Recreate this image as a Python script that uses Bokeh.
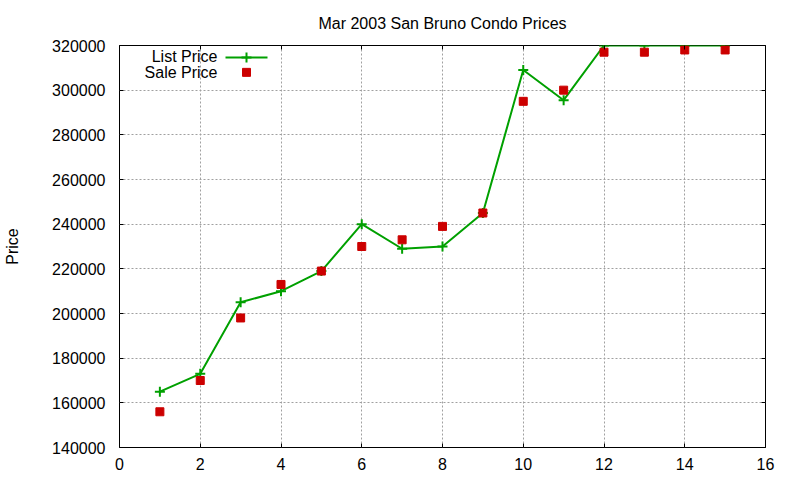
from bokeh.models import (ColumnDataSource, Label, LinearAxis,
                          SingleIntervalTicker, BasicTickFormatter, Range1d)
from bokeh.plotting import figure
from bokeh.embed import file_html
from bokeh.resources import INLINE

# data
month = [1, 2, 3, 4, 5, 6, 7, 8, 9, 10, 11, 12, 13, 14, 15]
list_price = [165000, 173000, 205000, 210000, 219000, 240000, 229000, 230000,
              245000, 309000, 295500, 320000, 320000, 320000, 320000]
sale_price = [156000, 170000, 198000, 213000, 219000, 230000, 233000, 239000,
              245000, 295000, 300000, 317000, 317000, 318000, 318000]

TITLE = "Mar 2003 San Bruno Condo Prices"
FONT = "Liberation Sans"
GREEN = "#00a000"
RED = "#cc0000"

src = ColumnDataSource(dict(x=month, lp=list_price, sp=sale_price))

p = figure(width=784, height=472, output_backend="svg", toolbar_location=None,
           x_range=Range1d(0, 16), y_range=Range1d(140000, 320000),
           min_border_left=119, min_border_right=19, min_border_top=45,
           min_border_bottom=23, title=TITLE)

p.title.align = "center"
p.title.text_font = FONT
p.title.text_font_size = "16px"
p.title.text_font_style = "normal"
p.title.text_color = "#000000"
p.title.standoff = 20

p.outline_line_color = "black"
p.outline_line_width = 1

xt = SingleIntervalTicker(interval=2)
yt = SingleIntervalTicker(interval=20000)

for ax in (p.xaxis[0], p.yaxis[0]):
    ax.major_label_text_font = FONT
    ax.major_label_text_font_size = "16px"
    ax.major_label_text_color = "#000000"
    ax.major_tick_in = 4
    ax.major_tick_out = 0
    ax.minor_tick_line_color = None
    ax.axis_line_color = None

p.xaxis[0].ticker = xt
p.yaxis[0].ticker = yt
p.xaxis[0].major_label_standoff = 6
p.yaxis[0].major_label_standoff = 10
p.yaxis[0].formatter = BasicTickFormatter(use_scientific=False)
p.yaxis[0].axis_label = "Price"
p.yaxis[0].axis_label_text_font = FONT
p.yaxis[0].axis_label_text_font_size = "16px"
p.yaxis[0].axis_label_text_font_style = "normal"
p.yaxis[0].axis_label_text_color = "#000000"
p.yaxis[0].axis_label_standoff = 28

# mirrored ticks on top and right, like gnuplot (no labels drawn)
for side, tk in (("above", xt), ("right", yt)):
    ax = LinearAxis(ticker=tk)
    ax.major_label_text_color = None
    ax.major_label_text_font_size = "1px"
    ax.major_label_standoff = 0
    ax.major_tick_in = 4
    ax.major_tick_out = 0
    ax.minor_tick_line_color = None
    ax.axis_line_color = None
    p.add_layout(ax, side)

p.xgrid.ticker = xt
p.ygrid.ticker = yt
p.grid.grid_line_color = "#a0a0a0"
p.grid.grid_line_dash = "2 2"
p.grid.grid_line_width = 1

p.line("x", "lp", source=src, line_color=GREEN, line_width=2)
p.scatter("x", "lp", source=src, marker="cross", size=10,
          line_color=GREEN, line_width=2)
p.scatter("x", "sp", source=src, marker="square", size=8,
          fill_color=RED, line_color=RED)

# gnuplot style key: text on the left, sample on the right
# a pixel range over the plot area to place it
p.extra_x_ranges = {"key": Range1d(0, 646)}
p.extra_y_ranges = {"key": Range1d(0, 404)}
for txt, ky in (("List Price", 393), ("Sale Price", 377)):
    p.add_layout(Label(x=98, y=ky, x_range_name="key", y_range_name="key",
                       text=txt, text_align="right", text_baseline="middle",
                       text_font=FONT, text_font_size="16px",
                       text_color="#000000"))
p.line([106, 148], [392, 392], x_range_name="key", y_range_name="key",
       line_color=GREEN, line_width=2)
p.scatter([127], [392], x_range_name="key", y_range_name="key",
          marker="cross", size=10, line_color=GREEN, line_width=2)
p.scatter([127], [377], x_range_name="key", y_range_name="key",
          marker="square", size=8, fill_color=RED, line_color=RED)

open("out.html", "w").write(file_html(p, INLINE))
